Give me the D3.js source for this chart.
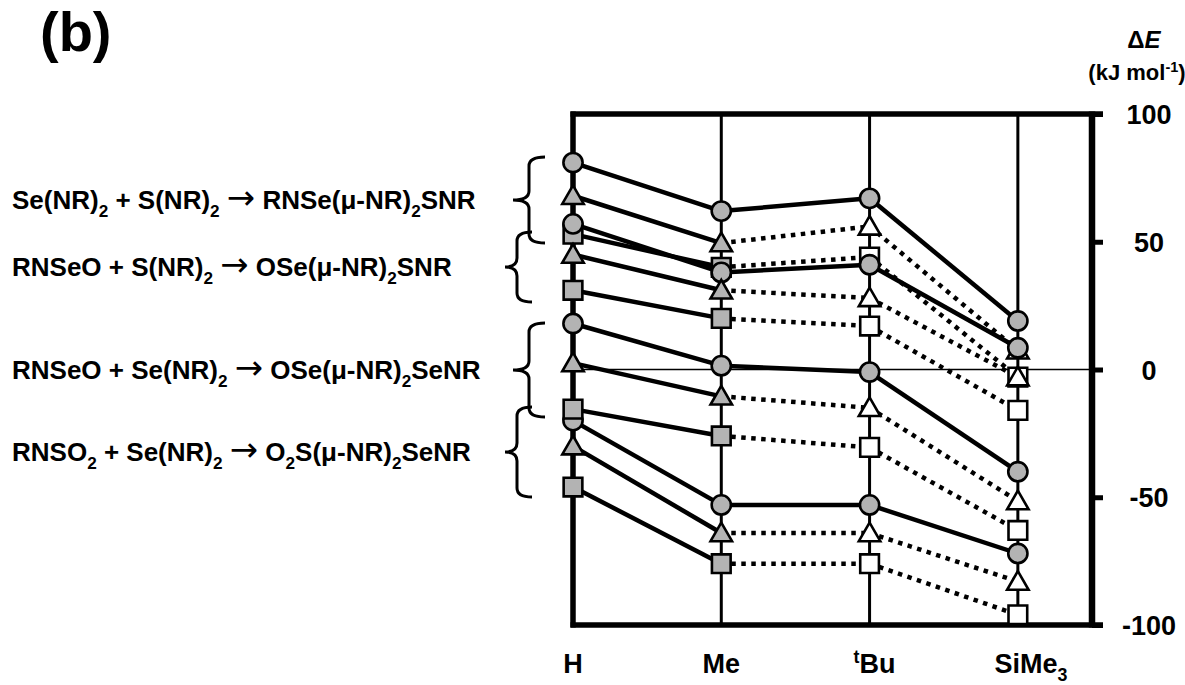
<!DOCTYPE html>
<html>
<head>
<meta charset="utf-8">
<script src="https://cdn.jsdelivr.net/npm/d3@7/dist/d3.min.js"></script>
<style>
body { margin: 0; background: #fff; }
svg text { font-family: "Liberation Sans", Arial, sans-serif; font-weight: bold; fill: #000; }
</style>
</head>
<body>
<svg id="chart" width="1185" height="685"></svg>
<script>
// categories (R substituent); "^" = superscript, "_" = subscript
var categories = ["H", "Me", "^tBu", "SiMe_3"];
var reactions = [
    "Se(NR)_2 + S(NR)_2 → RNSe(μ-NR)_2SNR",
    "RNSeO + S(NR)_2 → OSe(μ-NR)_2SNR",
    "RNSeO + Se(NR)_2 → OSe(μ-NR)_2SeNR",
    "RNSO_2 + Se(NR)_2 → O_2S(μ-NR)_2SeNR"
];
// ΔE (kJ/mol), one row per reaction, columns follow categories
var circleValues   = [[81, 62, 67, 19], [57, 38, 41, 8.5], [18, 1.5, -1, -40], [-20, -53, -53, -72]];
var triangleValues = [[68, 49.5, 56, 7.5], [45, 31, 28, -3], [2.5, -10.5, -15, -51.5], [-30, -64, -64, -83]];
var squareValues   = [[53, 40, 44, -3], [31, 20, 17, -16], [-15.5, -26, -30.5, -63], [-46, -76, -76, -96]];
var yTicks = [-100, -50, 0, 50, 100];

var svg = d3.select("#chart");
var gray = "#b3b3b3";

var x = d3.scaleLinear().domain([0, 3.5]).range([573, 1092]);
var y = d3.scaleLinear().domain([-100, 100]).range([625, 114]);

// write a string with _x / ^x sub/superscripts into a text element
function richText(sel, str, size) {
    var parts = str.match(/[_^].|→|[^_^→]+/g);
    var shift = 0;
    parts.forEach(function(p){
        var t = sel.append("tspan");
        var want = 0;
        if (p[0] == "_") { want = size * 0.3; p = p.slice(1); t.attr("font-size", size * 0.66); }
        else if (p[0] == "^") { want = -size * 0.38; p = p.slice(1); t.attr("font-size", size * 0.66); }
        else if (p == "→") {
            t.attr("font-size", size * 1.3)
             .style("font-family", "'DejaVu Sans', sans-serif")
             .style("font-weight", "normal");
        }
        t.attr("dy", want - shift).text(p);
        shift = want;
    });
}

// frame: category lines
svg.append("g").selectAll("line.cat")
    .data(categories.slice(1))
    .enter().append("line")
    .attr("x1", function(d, i){ return x(i + 1); })
    .attr("x2", function(d, i){ return x(i + 1); })
    .attr("y1", y(100)).attr("y2", y(-100))
    .attr("stroke", "#000").attr("stroke-width", 3);

// zero line
svg.append("line")
    .attr("x1", x(0)).attr("x2", x(3.5))
    .attr("y1", y(0)).attr("y2", y(0))
    .attr("stroke", "#000").attr("stroke-width", 1.3);

// top / bottom frame
[100, -100].forEach(function(v){
    svg.append("line")
        .attr("x1", x(0) - 2.5).attr("x2", x(3.5) + 11)
        .attr("y1", y(v)).attr("y2", y(v))
        .attr("stroke", "#000").attr("stroke-width", 5.5);
});
// left axis (H)
svg.append("line")
    .attr("x1", x(0)).attr("x2", x(0))
    .attr("y1", y(100) - 2.5).attr("y2", y(-100) + 2.5)
    .attr("stroke", "#000").attr("stroke-width", 5.5);

// right value axis
var yAxis = svg.append("g")
    .attr("transform", "translate(" + x(3.5) + ",0)")
    .call(d3.axisRight(y).tickValues(yTicks).tickSize(11).tickFormat(function(d){ return String(d); }));
yAxis.select(".domain").attr("stroke", "#000").attr("stroke-width", 6.5)
    .attr("d", "M0," + (y(100) - 2.5) + "V" + (y(-100) + 2.5));
yAxis.selectAll(".tick line").attr("stroke", "#000").attr("stroke-width", 5);
yAxis.selectAll(".tick text")
    .attr("x", 57).attr("dy", "0.36em")
    .attr("text-anchor", "middle")
    .attr("font-size", 27)
    .style("font-family", "'Liberation Sans', Arial, sans-serif")
    .style("font-weight", "bold");

// axis title
var t1 = svg.append("text").attr("x", 1144).attr("y", 48).attr("text-anchor", "middle").attr("font-size", 24);
t1.append("tspan").text("Δ");
t1.append("tspan").attr("font-style", "italic").text("E");
var t2 = svg.append("text").attr("x", 1137).attr("y", 80).attr("text-anchor", "middle").attr("font-size", 22);
richText(t2, "(kJ mol^-^1)", 22);

// category labels
categories.forEach(function(c, i){
    var t = svg.append("text")
        .attr("x", x(i) + (i == 3 ? 13 : i == 2 ? 5 : 0))
        .attr("y", 673)
        .attr("text-anchor", "middle")
        .attr("font-size", 27);
    richText(t, c, 27);
});

// panel letter
svg.append("text").attr("x", 40).attr("y", 51).attr("font-size", 56).text("(b)");

// reaction labels with braces
var rowBase = [209, 276, 379, 461];
var braces = [
    {xr: 545, xm: 529, xl: 513, y0: 157, y1: 243},
    {xr: 532, xm: 517, xl: 505, y0: 232, y1: 302},
    {xr: 545, xm: 529, xl: 513, y0: 323, y1: 417},
    {xr: 532, xm: 517, xl: 505, y0: 407, y1: 497}
];
reactions.forEach(function(r, i){
    var t = svg.append("text").attr("x", 12).attr("y", rowBase[i]).attr("font-size", 26);
    richText(t, r, 26);
    var b = braces[i], ym = (b.y0 + b.y1) / 2, k = 9;
    svg.append("path")
        .attr("d", "M" + b.xr + "," + b.y0 +
            "Q" + b.xm + "," + b.y0 + " " + b.xm + "," + (b.y0 + k) +
            "L" + b.xm + "," + (ym - k) +
            "Q" + b.xm + "," + ym + " " + b.xl + "," + ym +
            "Q" + b.xm + "," + ym + " " + b.xm + "," + (ym + k) +
            "L" + b.xm + "," + (b.y1 - k) +
            "Q" + b.xm + "," + b.y1 + " " + b.xr + "," + b.y1)
        .attr("fill", "none").attr("stroke", "#000").attr("stroke-width", 3);
});

// series
var series = [];
[0, 1, 3, 2].forEach(function(g){
    series.push({shape: "circle", values: circleValues[g]});
    series.push({shape: "triangle", values: triangleValues[g]});
    series.push({shape: "square", values: squareValues[g]});
});

var line = d3.line().x(function(d){ return x(d[0]); }).y(function(d){ return y(d[1]); });
var lineG = svg.append("g");
series.forEach(function(s){
    for (var i = 0; i < s.values.length - 1; i++) {
        var dotted = s.shape != "circle" && i > 0;
        lineG.append("path")
            .attr("d", line([[i, s.values[i]], [i + 1, s.values[i + 1]]]))
            .attr("fill", "none")
            .attr("stroke", "#000")
            .attr("stroke-width", 4.5)
            .attr("stroke-dasharray", dotted ? "4.5,5.5" : null);
    }
});

var symbols = {circle: d3.symbolCircle, triangle: d3.symbolTriangle, square: d3.symbolSquare};
var sizes = {circle: 290, triangle: 200, square: 350};
var markG = svg.append("g");
series.forEach(function(s){
    markG.selectAll(null)
        .data(s.values)
        .enter().append("path")
        .attr("d", d3.symbol().type(symbols[s.shape]).size(sizes[s.shape]))
        .attr("transform", function(d, i){
            var dy = s.shape == "triangle" ? 2 : 0;
            return "translate(" + x(i) + "," + (y(d) + dy) + ")";
        })
        .attr("fill", function(d, i){ return (s.shape != "circle" && i > 1) ? "#fff" : gray; })
        .attr("stroke", "#000")
        .attr("stroke-width", 2.6);
});
</script>
</body>
</html>
